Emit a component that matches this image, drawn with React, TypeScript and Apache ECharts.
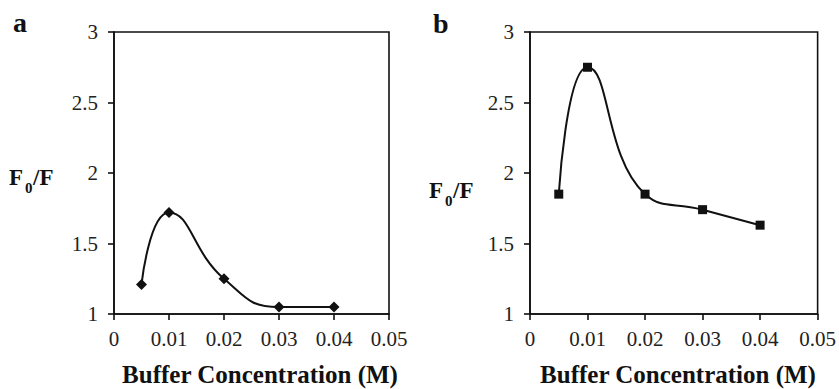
import React, { useEffect, useRef } from "react";
import * as echarts from "echarts";

const concentrations = [0.005, 0.01, 0.02, 0.03, 0.04];
const ratioA = [1.21, 1.72, 1.25, 1.05, 1.05];
const ratioB = [1.85, 2.75, 1.85, 1.74, 1.63];
const xTitle = "Buffer Concentration (M)";

const SERIF = "Liberation Serif";
const INK = "#111";

function xAxisCfg(gridIndex: number) {
  return {
    type: "value",
    gridIndex,
    min: 0,
    max: 0.05,
    interval: 0.01,
    axisLine: { show: true, lineStyle: { color: INK, width: 1.6 } },
    axisTick: { show: true, inside: false, length: 6, lineStyle: { color: INK, width: 1.6 } },
    splitLine: { show: false },
    axisLabel: {
      margin: 14,
      color: "#222",
      fontFamily: SERIF,
      fontSize: 21,
      formatter: (v: number) => (v === 0 ? "0" : v.toFixed(2)),
    },
  };
}

function yAxisCfg(gridIndex: number) {
  return {
    type: "value",
    gridIndex,
    min: 1,
    max: 3,
    interval: 0.5,
    axisLine: { show: true, lineStyle: { color: INK, width: 1.6 } },
    axisTick: { show: true, inside: false, length: 6, lineStyle: { color: INK, width: 1.6 } },
    splitLine: { show: false },
    axisLabel: {
      margin: 16,
      color: "#222",
      fontFamily: SERIF,
      fontSize: 21,
      formatter: (v: number) => String(v),
    },
  };
}

function txt(x: number, y: number, text: string, font: string, align = "left") {
  return {
    type: "text",
    x,
    y,
    silent: true,
    style: {
      text,
      font,
      fill: INK,
      align,
      verticalAlign: "middle",
      textAlign: align,
      textVerticalAlign: "middle",
    },
  };
}

export default function App() {
  const ref = useRef<HTMLDivElement>(null);
  useEffect(() => {
    document.body.style.margin = "0";
    if (!ref.current) return;
    const chart = echarts.init(ref.current, undefined, { renderer: "svg" });
    const bold23 = `bold 23px "${SERIF}"`;
    const sub = `bold 15px "${SERIF}"`;
    chart.setOption({
      animation: false,
      backgroundColor: "#fff",
      grid: [
        { left: 114, top: 32, width: 275, height: 282, show: true, borderColor: INK, borderWidth: 1.6, backgroundColor: "transparent" },
        { left: 530, top: 32, width: 295, height: 282, show: true, borderColor: INK, borderWidth: 1.6, backgroundColor: "transparent" },
      ],
      xAxis: [xAxisCfg(0), xAxisCfg(1)],
      yAxis: [yAxisCfg(0), yAxisCfg(1)],
      series: [
        {
          type: "line",
          xAxisIndex: 0,
          yAxisIndex: 0,
          data: concentrations.map((c, i) => [c, ratioA[i]]),
          smooth: 0.5,
          symbol: "diamond",
          symbolSize: 11,
          itemStyle: { color: INK },
          lineStyle: { color: INK, width: 2 },
        },
        {
          type: "line",
          xAxisIndex: 1,
          yAxisIndex: 1,
          data: concentrations.map((c, i) => [c, ratioB[i]]),
          smooth: 0.5,
          symbol: "rect",
          symbolSize: 9,
          itemStyle: { color: INK },
          lineStyle: { color: INK, width: 2 },
        },
      ],
      graphic: [
        txt(13, 22, "a", `bold 28px "${SERIF}"`),
        txt(433, 23, "b", `bold 28px "${SERIF}"`),
        txt(9, 177, "F", bold23),
        txt(25, 188, "0", sub),
        txt(33, 177, "/F", bold23),
        txt(429, 190, "F", bold23),
        txt(445, 201, "0", sub),
        txt(453, 190, "/F", bold23),
        txt(260, 374, xTitle, `bold 25px "${SERIF}"`, "center"),
        txt(678, 374, xTitle, `bold 25px "${SERIF}"`, "center"),
      ],
    });
    return () => chart.dispose();
  }, []);
  return <div ref={ref} style={{ width: 839, height: 389 }} />;
}
